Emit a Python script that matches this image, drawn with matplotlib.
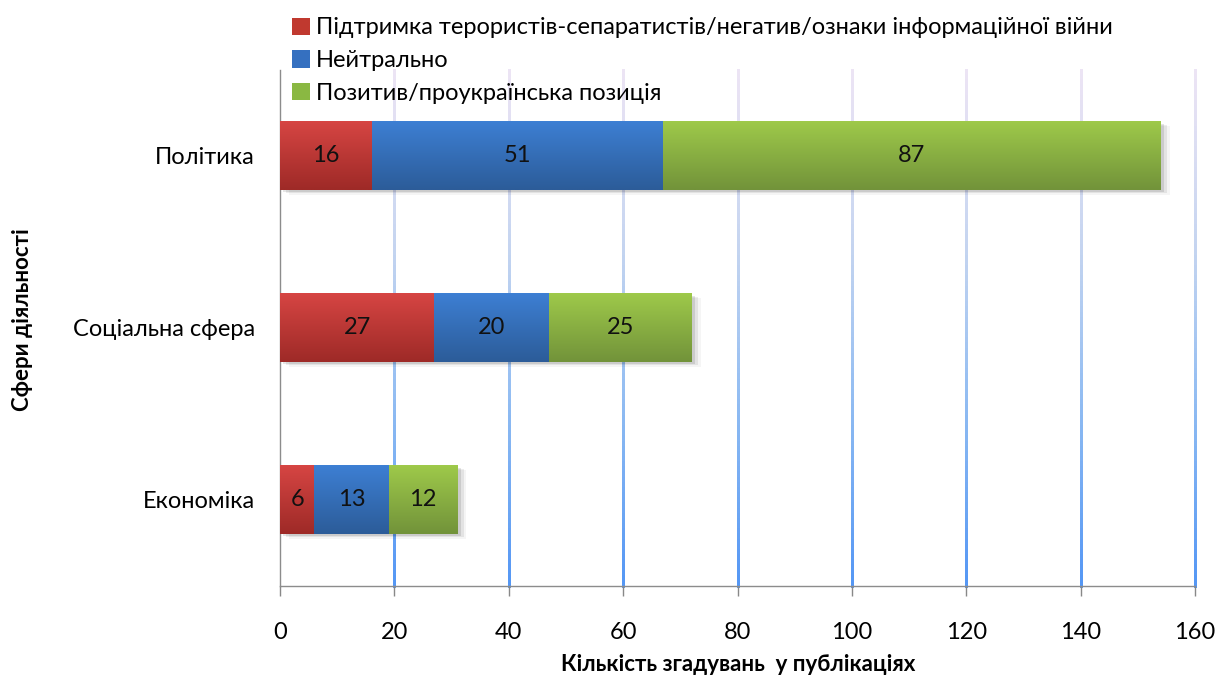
import numpy as np
import matplotlib
matplotlib.use("Agg")
import matplotlib.pyplot as plt
from matplotlib.collections import LineCollection
from matplotlib.colors import LinearSegmentedColormap, to_rgb
from matplotlib.patches import Patch

plt.rcParams['font.family'] = ['Lato', 'Open Sans', 'DejaVu Sans']

categories = ["Економіка", "Соціальна сфера", "Політика"]
series_names = [
    "Підтримка терористів-сепаратистів/негатив/ознаки інформаційної війни",
    "Нейтрально",
    "Позитив/проукраїнська позиція",
]
negative = [6, 27, 16]
neutral = [13, 20, 51]
positive = [12, 25, 87]
series_values = [negative, neutral, positive]
x_ticks = [0, 20, 40, 60, 80, 100, 120, 140, 160]
x_label = "Кількість згадувань  у публікаціях"
y_label = "Сфери діяльності"

# (top colour, bottom colour) of each series' vertical gradient
gradients = [("#d64543", "#9e2a27"), ("#3d7fd3", "#2c5c99"), ("#9ec94a", "#72933a")]
legend_colors = ["#c0392f", "#3570c0", "#8ab842"]

W, H = 1230, 680
fig = plt.figure(figsize=(W / 100, H / 100), dpi=100)
ax = fig.add_axes([280 / W, 1 - 586 / H, (1195 - 280) / W, (586 - 70) / H])

bar_h = 0.4
ypos = np.arange(len(categories))
ax.set_xlim(0, 160)
ax.set_ylim(-0.5, len(categories) - 0.5)

# gradient gridlines: pale lavender at the top turning blue towards the bottom
grid_cmap = LinearSegmentedColormap.from_list(
    "grid", [(0.0, "#ece4f4"), (0.35, "#c4d4f0"), (0.65, "#90bcf2"), (1.0, "#5597f4")])
n_seg = 100
ys = np.linspace(ax.get_ylim()[1], ax.get_ylim()[0], n_seg + 1)
for xt in x_ticks[1:]:
    segs = [[(xt, ys[i]), (xt, ys[i + 1])] for i in range(n_seg)]
    cols = grid_cmap(np.linspace(0, 1, n_seg))
    lc = LineCollection(segs, colors=cols, linewidths=2.0, zorder=0,
                        capstyle="projecting", antialiaseds=False, clip_on=False)
    ax.add_collection(lc)

# stacked bars with vertical gradient fill
left = np.zeros(len(categories))
for vals, (ctop, cbot) in zip(series_values, gradients):
    vals = np.array(vals, dtype=float)
    for i in range(len(categories)):
        x0, w = left[i], vals[i]
        y0 = ypos[i] - bar_h / 2
        grad = np.linspace(0, 1, 64)[:, None]
        ct, cb = np.array(to_rgb(ctop)), np.array(to_rgb(cbot))
        img = ct[None, None, :] * (1 - grad[:, :, None]) + cb[None, None, :] * grad[:, :, None]
        ax.imshow(img, extent=(x0, x0 + w, y0, y0 + bar_h), origin="upper",
                  aspect="auto", zorder=3, interpolation="bilinear")
        ax.text(x0 + w / 2, ypos[i], f"{int(vals[i])}", ha="center", va="center",
                fontsize=17, color="#111111", zorder=5)
    left += vals

# soft drop shadow under each whole stack
totals = left
for i in range(len(categories)):
    for k, a in enumerate([0.10, 0.07, 0.04]):
        d = 0.6 + k * 0.5
        ax.add_patch(plt.Rectangle((d, ypos[i] - bar_h / 2 - 0.012 - k * 0.006),
                                   totals[i], bar_h, facecolor="black", alpha=a,
                                   edgecolor="none", zorder=2))

ax.set_xticks(x_ticks)
ax.set_yticks(ypos)
ax.set_yticklabels(categories)
ax.tick_params(axis="y", length=0, pad=18, labelsize=17)
ax.tick_params(axis="x", length=7, width=1, color="#888888", direction="out",
               pad=19, labelsize=17)
for s in ["top", "right"]:
    ax.spines[s].set_visible(False)
for s in ["left", "bottom"]:
    ax.spines[s].set_color("#8c8c8c")
    ax.spines[s].set_linewidth(1)
ax.set_aspect("auto")

ax.set_xlabel(x_label, fontsize=16, fontweight="bold")
ax.set_ylabel(y_label, fontsize=16, fontweight="bold")
ax.xaxis.set_label_coords((738 - 280) / (1195 - 280), -(654 - 586) / (586 - 70))
ax.yaxis.set_label_coords(-(280 - 33) / (1195 - 280), (586 - 320) / (586 - 70))

handles = [Patch(facecolor=c, edgecolor="none") for c in legend_colors]
fig.legend(handles, series_names, loc="upper left", bbox_to_anchor=(283 / W, 1 - 8 / H),
           frameon=False, fontsize=17, handlelength=0.75, handleheight=0.75,
           handletextpad=0.25, labelspacing=0.5, borderaxespad=0)

fig.savefig("out.png", dpi=100)
